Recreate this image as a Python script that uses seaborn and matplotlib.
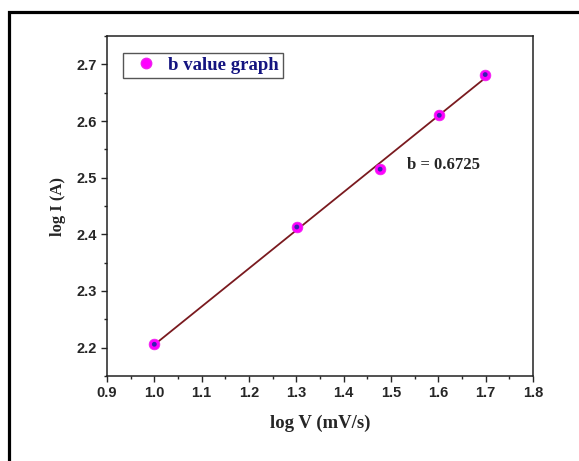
import matplotlib
matplotlib.use("Agg")
import matplotlib.pyplot as plt
import matplotlib.ticker as ticker
from matplotlib.patches import Rectangle
from matplotlib.lines import Line2D
import numpy as np
import pandas as pd
import seaborn as sns

log_v = [1.0, 1.301, 1.477, 1.602, 1.699]
log_i = [2.206, 2.413, 2.515, 2.610, 2.682]
b_label = "b = 0.6725"
legend_label = "b value graph"

df = pd.DataFrame({"log_v": log_v, "log_i": log_i})

sns.set_style("ticks")
plt.rcParams["font.family"] = ["Liberation Sans", "DejaVu Sans"]

fig = plt.figure(figsize=(5.79, 4.61), dpi=100)
ax = fig.add_axes([107 / 579, 1 - 376 / 461, 426 / 579, 340 / 461])

# outer frame of the original figure
fig.patches.append(Rectangle((8.5 / 579, -0.2), 1.2, 1.2 + (461 - 11.5) / 461 - 1,
                             transform=fig.transFigure, fill=False,
                             edgecolor="black", lw=2.3, zorder=0))

sns.regplot(data=df, x="log_v", y="log_i", ci=None, scatter=False, ax=ax,
            line_kws={"color": "#7a1a1f", "lw": 1.3})
sns.scatterplot(data=df, x="log_v", y="log_i", ax=ax, s=60, color="#ff00ff",
                edgecolor="#ee22ee", linewidth=0.5, zorder=3)
sns.scatterplot(data=df, x="log_v", y="log_i", ax=ax, s=12, color="#3a1fb0",
                edgecolor="none", zorder=4)

ax.set_xlim(0.9, 1.8)
ax.set_ylim(2.15, 2.75)
ax.xaxis.set_major_locator(ticker.MultipleLocator(0.1))
ax.xaxis.set_minor_locator(ticker.MultipleLocator(0.05))
ax.yaxis.set_major_locator(ticker.MultipleLocator(0.1))
ax.yaxis.set_minor_locator(ticker.MultipleLocator(0.05))
ax.xaxis.set_major_formatter(ticker.FormatStrFormatter("%.1f"))
ax.yaxis.set_major_formatter(ticker.FormatStrFormatter("%.1f"))
ax.tick_params(which="major", direction="out", length=4.5, width=1,
               labelsize=10.5, pad=3)
ax.tick_params(which="minor", direction="out", length=2.5, width=1)
for lbl in ax.get_xticklabels() + ax.get_yticklabels():
    lbl.set_fontweight("bold")
for sp in ax.spines.values():
    sp.set_linewidth(1.1)
    sp.set_color("#222222")

ax.set_xlabel("log V (mV/s)", fontsize=13.5, fontweight="bold",
              family="Liberation Serif", labelpad=10)
ax.set_ylabel("log I (A)", fontsize=12, fontweight="bold",
              family="Liberation Serif", labelpad=7)

ax.text(1.534, 2.522, b_label, fontsize=12, fontweight="bold",
        family="Liberation Serif", ha="left", va="center")

handle = Line2D([], [], ls="none", marker="o", markersize=7.5,
                markerfacecolor="#ff00ff", markeredgecolor="#ee22ee")
leg = ax.legend([handle], [legend_label], loc="upper left",
                bbox_to_anchor=(16 / 426, 1 - 17 / 340), borderaxespad=0,
                frameon=True, fancybox=False, framealpha=1,
                edgecolor="#555555", handlelength=2.0, handletextpad=0.2,
                borderpad=0.2,
                prop={"family": "Liberation Serif", "weight": "bold", "size": 13.5})
leg.get_frame().set_linewidth(1.0)
for t in leg.get_texts():
    t.set_color("#141480")

fig.savefig("out.png", dpi=100)
